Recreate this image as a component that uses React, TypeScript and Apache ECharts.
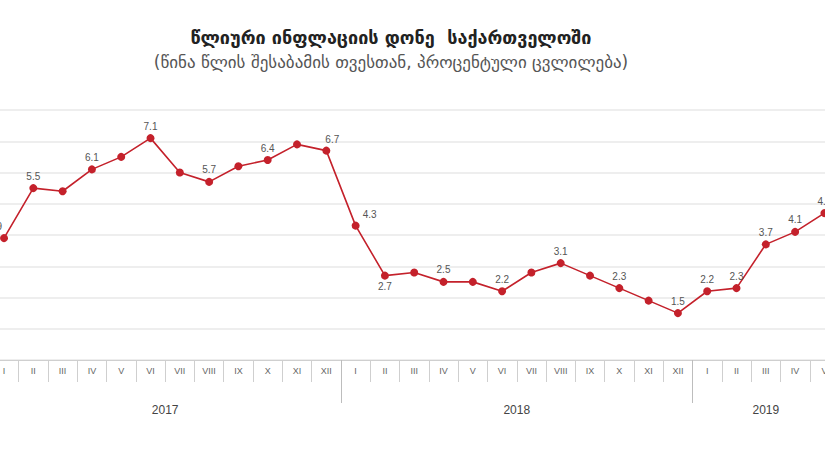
import React, { useEffect, useRef } from "react";
import * as echarts from "echarts";

const titleText = "წლიური ინფლაციის დონე  საქართველოში";
const subtitleText = "(წინა წლის შესაბამის თვესთან, პროცენტული ცვლილება)";

const monthNames = ["I", "II", "III", "IV", "V", "VI", "VII", "VIII", "IX", "X", "XI", "XII"];
const years = ["2017", "2018", "2019"];
const monthsPerYear = [12, 12, 5];

const values2017 = [3.9, 5.5, 5.4, 6.1, 6.5, 7.1, 6.0, 5.7, 6.2, 6.4, 6.9, 6.7];
const values2018 = [4.3, 2.7, 2.8, 2.5, 2.5, 2.2, 2.8, 3.1, 2.7, 2.3, 1.9, 1.5];
const values2019 = [2.2, 2.3, 3.7, 4.1, 4.7];

// which points carry a value label: "t" = above, "b" = below, "r"/"rr" = above-right, "l" = above-left, "" = none
const labels2017 = ["l", "t", "", "t", "", "t", "", "t", "", "t", "", "r"];
const labels2018 = ["rr", "b", "", "t", "", "t", "", "t", "", "t", "", "t"];
const labels2019 = ["t", "t", "t", "t", "t"];

const yTicks = [0, 1, 2, 3, 4, 5, 6, 7, 8];

const SHIFT = 20; // the chart canvas is wider than the window and shifted left (the reference is cropped)

export default function App() {
  const ref = useRef<HTMLDivElement>(null);

  useEffect(() => {
    if (!ref.current) return;
    const chart = echarts.init(ref.current, null, { renderer: "svg" });

    const allValues = [...values2017, ...values2018, ...values2019];
    const allLabels = [...labels2017, ...labels2018, ...labels2019];
    const categories: string[] = [];
    monthsPerYear.forEach((n) => {
      for (let i = 0; i < n; i++) categories.push(monthNames[i]);
    });

    const data = allValues.map((v, i) => {
      const l = allLabels[i];
      const label: any = { show: l !== "" };
      if (l === "b") {
        label.position = "bottom";
        label.distance = 2;
      } else if (l === "r") {
        label.position = "top";
        label.offset = [6, 1];
      } else if (l === "rr") {
        label.position = "top";
        label.offset = [14, 1];
      } else if (l === "l") {
        label.position = "top";
        label.offset = [-9, 0];
      }
      return { value: v, label };
    });

    const boundaries: number[] = [-0.5];
    const centres: number[] = [];
    let acc = 0;
    monthsPerYear.forEach((n) => {
      centres.push(acc + (n - 1) / 2);
      acc += n;
      boundaries.push(acc - 0.5);
    });
    const n = categories.length;

    const option: any = {
      animation: false,
      backgroundColor: "#ffffff",
      graphic: [
        {
          type: "text",
          x: 391 + SHIFT,
          y: 37,
          style: {
            text: titleText,
            fill: "#222",
            font: 'bold 18px "DejaVu Sans", sans-serif',
            textAlign: "center",
            textVerticalAlign: "middle",
          },
        },
        {
          type: "text",
          x: 391 + SHIFT,
          y: 62,
          style: {
            text: subtitleText,
            fill: "#555",
            font: '17px "DejaVu Sans", sans-serif',
            textAlign: "center",
            textVerticalAlign: "middle",
          },
        },
      ],
      grid: {
        left: 9.35,
        right: 5.95,
        top: 110,
        bottom: 105,
        containLabel: false,
      },
      xAxis: [
        {
          type: "category",
          data: categories,
          boundaryGap: true,
          axisLine: { show: true, lineStyle: { color: "#cfcfcf", width: 1 } },
          axisTick: { show: true, interval: 0, length: 22, lineStyle: { color: "#cfcfcf" } },
          axisLabel: {
            interval: 0,
            margin: 6,
            fontSize: 9,
            color: "#666",
            fontFamily: "Arial, Liberation Sans, sans-serif",
          },
          splitLine: { show: false },
        },
        {
          type: "value",
          position: "bottom",
          min: -0.5,
          max: n - 0.5,
          axisLine: { show: false },
          axisTick: {
            show: true,
            length: 43,
            lineStyle: { color: "#bdbdbd" },
            customValues: boundaries,
          },
          axisLabel: {
            show: true,
            margin: 44,
            fontSize: 12,
            color: "#444",
            fontFamily: "Arial, Liberation Sans, sans-serif",
            customValues: centres,
            formatter: (val: number) => {
              const idx = centres.findIndex((c) => Math.abs(c - val) < 1e-6);
              return idx >= 0 ? years[idx] : "";
            },
          },
          splitLine: { show: false },
        },
      ],
      yAxis: {
        type: "value",
        min: yTicks[0],
        max: yTicks[yTicks.length - 1],
        interval: 1,
        axisLine: { show: false },
        axisTick: { show: false },
        axisLabel: { show: false },
        splitLine: { show: true, lineStyle: { color: "#e8e8e8", width: 1.5 } },
      },
      series: [
        {
          type: "line",
          xAxisIndex: 0,
          data,
          symbol: "circle",
          symbolSize: 8,
          lineStyle: { color: "#c4212b", width: 1.6 },
          itemStyle: { color: "#c4212b" },
          label: {
            show: true,
            position: "top",
            distance: 3,
            fontSize: 10,
            color: "#555",
            fontFamily: "Arial, Liberation Sans, sans-serif",
          },
        },
      ],
    };

    chart.setOption(option);
    return () => chart.dispose();
  }, []);

  return (
    <div
      style={{
        position: "fixed",
        left: 0,
        top: 0,
        width: 825,
        height: 465,
        overflow: "hidden",
        background: "#fff",
      }}
    >
      <div
        ref={ref}
        style={{ position: "absolute", left: -SHIFT, top: 0, width: 825 + 2 * SHIFT, height: 465 }}
      />
    </div>
  );
}
